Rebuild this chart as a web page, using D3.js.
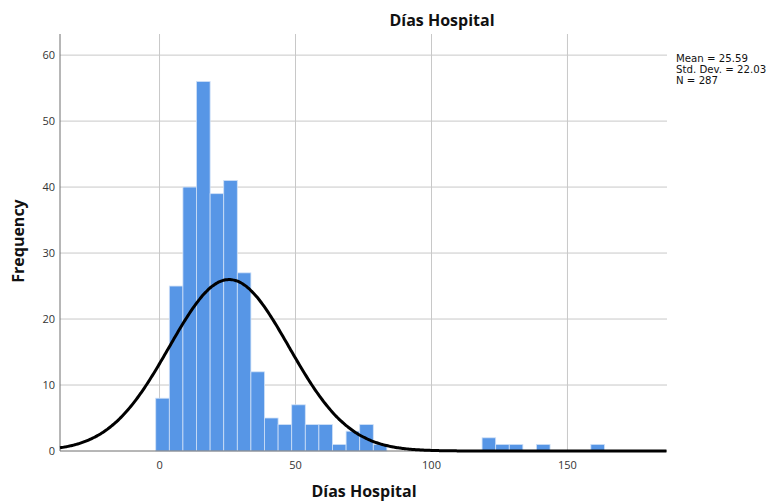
<!DOCTYPE html>
<html>
<head>
<meta charset="utf-8">
<script src="https://cdn.jsdelivr.net/npm/d3@7"></script>
<style>
  html, body { margin: 0; padding: 0; background: #fff; }
  svg { display: block; }
</style>
</head>
<body>
<svg id="chart" width="773" height="502"></svg>
<script>
// Histogram of hospital stay (days), bin width 5 starting at -1.4
const binStart = -1.4;
const binWidth = 5;
const frequencies = [8, 25, 40, 56, 39, 41, 27, 12, 5, 4, 7, 4, 4, 1, 3, 4, 1,
                     0, 0, 0, 0, 0, 0, 0, 2, 1, 1, 0, 1, 0, 0, 0, 1];
const xTicks = [0, 50, 100, 150];
const yTicks = [0, 10, 20, 30, 40, 50, 60];
const stats = { mean: 25.59, sd: 22.03, n: 287 };
const statLines = ["Mean = 25.59", "Std. Dev. = 22.03", "N = 287"];

const svg = d3.select("#chart");
const margin = { left: 60, right: 106, top: 34, bottom: 51 };
const W = 773, H = 502;

const x = d3.scaleLinear().domain([-36.6, 186.6]).range([margin.left, W - margin.right]);
const y = d3.scaleLinear().domain([0, 63.2]).range([H - margin.bottom, margin.top]);

const font = "'Open Sans', 'DejaVu Sans', sans-serif";

// grid lines
svg.append("g").selectAll("line.h").data(yTicks.filter(d => d > 0)).join("line")
  .attr("x1", margin.left).attr("x2", W - margin.right)
  .attr("y1", d => y(d)).attr("y2", d => y(d))
  .attr("stroke", "#c8c8c8").attr("stroke-width", 1);
svg.append("g").selectAll("line.v").data(xTicks).join("line")
  .attr("y1", margin.top).attr("y2", H - margin.bottom)
  .attr("x1", d => x(d)).attr("x2", d => x(d))
  .attr("stroke", "#c8c8c8").attr("stroke-width", 1);

// bars
const bins = frequencies.map((f, i) => ({ x0: binStart + i * binWidth, x1: binStart + (i + 1) * binWidth, f }))
  .filter(b => b.f > 0);
svg.append("g").selectAll("rect").data(bins).join("rect")
  .attr("x", d => x(d.x0))
  .attr("width", d => x(d.x1) - x(d.x0))
  .attr("y", d => y(d.f))
  .attr("height", d => y(0) - y(d.f))
  .attr("fill", "#5796e6")
  .attr("stroke", "#cfe0f7").attr("stroke-width", 0.8);

// axes lines
svg.append("line").attr("x1", margin.left).attr("x2", margin.left)
  .attr("y1", margin.top).attr("y2", y(0)).attr("stroke", "#6e6e6e");
svg.append("line").attr("x1", margin.left).attr("x2", W - margin.right)
  .attr("y1", y(0)).attr("y2", y(0)).attr("stroke", "#6e6e6e");

// normal curve scaled to counts
const scaleK = stats.n * binWidth / (stats.sd * Math.sqrt(2 * Math.PI));
const curvePts = d3.range(x.domain()[0], x.domain()[1] + 0.01, 0.5)
  .map(v => [v, scaleK * Math.exp(-0.5 * Math.pow((v - stats.mean) / stats.sd, 2))]);
svg.append("path").datum(curvePts)
  .attr("d", d3.line().x(d => x(d[0])).y(d => y(d[1])).curve(d3.curveBasis))
  .attr("fill", "none").attr("stroke", "#000").attr("stroke-width", 3);

// tick labels
svg.append("g").selectAll("text").data(yTicks).join("text")
  .attr("x", margin.left - 5).attr("y", d => y(d) + 4)
  .attr("text-anchor", "end").attr("font-family", font).attr("font-size", 11)
  .attr("fill", "#333").text(d => d);
svg.append("g").selectAll("text").data(xTicks).join("text")
  .attr("x", d => x(d)).attr("y", y(0) + 18)
  .attr("text-anchor", "middle").attr("font-family", font).attr("font-size", 11)
  .attr("fill", "#333").text(d => d);

// titles
svg.append("text").attr("x", 442).attr("y", 26).attr("text-anchor", "middle")
  .attr("font-family", font).attr("font-weight", "bold").attr("font-size", 16)
  .attr("fill", "#111").text("Días Hospital");
svg.append("text").attr("x", 364).attr("y", 497).attr("text-anchor", "middle")
  .attr("font-family", font).attr("font-weight", "bold").attr("font-size", 16)
  .attr("fill", "#111").text("Días Hospital");
svg.append("text").attr("transform", "translate(24,241) rotate(-90)").attr("text-anchor", "middle")
  .attr("font-family", font).attr("font-weight", "bold").attr("font-size", 16)
  .attr("fill", "#111").text("Frequency");

// summary statistics
svg.append("g").selectAll("text").data(statLines).join("text")
  .attr("x", 676).attr("y", (d, i) => 62 + i * 11)
  .attr("font-family", "'DejaVu Sans', sans-serif").attr("font-size", 10.2)
  .attr("fill", "#111").text(d => d);
</script>
</body>
</html>
